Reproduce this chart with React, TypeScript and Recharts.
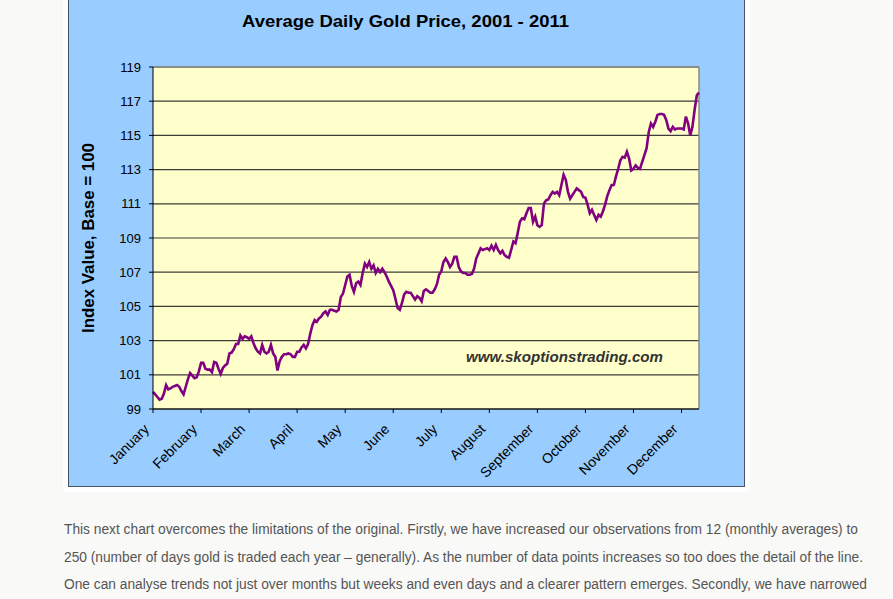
import React from "react";
import { LineChart, Line, XAxis, YAxis, CartesianGrid, ReferenceLine } from "recharts";

// index value per trading day
const jan = [100.0, 99.85, 99.7, 99.55, 99.6, 99.9, 100.4, 100.15, 100.2, 100.3, 100.35, 100.4, 100.3, 100.05, 99.85, 100.3, 100.75, 101.1, 100.95, 100.8, 100.85, 101.2];
const feb = [101.7, 101.7, 101.35, 101.3, 101.3, 101.15, 101.75, 101.7, 101.35, 101.05, 101.4, 101.55, 101.65, 102.25, 102.3, 102.5, 102.8, 102.8, 103.3, 103.1, 103.25, 103.2];
const mar = [103.1, 103.25, 102.85, 102.55, 102.35, 102.25, 102.75, 102.35, 102.25, 102.35, 102.75, 102.25, 102.05, 101.25, 101.8, 102.05, 102.2, 102.2, 102.25, 102.2, 102.05, 102.05];
const apr = [102.35, 102.35, 102.6, 102.75, 102.55, 102.8, 103.4, 103.9, 104.2, 104.1, 104.3, 104.4, 104.6, 104.7, 104.5, 104.8, 104.8, 104.75, 104.7, 104.8, 105.55, 105.75];
const may = [106.25, 106.75, 106.85, 106.2, 105.85, 106.35, 106.45, 106.25, 106.95, 107.5, 107.3, 107.6, 107.2, 107.4, 106.95, 107.2, 107.0, 107.2, 107.0, 106.75, 106.45, 106.2];
const jun = [105.95, 105.45, 104.9, 104.8, 105.2, 105.7, 105.85, 105.8, 105.8, 105.6, 105.4, 105.6, 105.5, 105.3, 105.9, 106.0, 105.9, 105.8, 105.8, 106.0, 106.3, 106.85];
const jul = [107.05, 107.6, 107.8, 107.6, 107.3, 107.5, 107.9, 107.9, 107.3, 107.05, 106.95, 106.95, 106.85, 106.85, 106.9, 107.2, 107.8, 108.1, 108.4, 108.3, 108.35, 108.4];
const aug = [108.3, 108.55, 108.3, 108.6, 108.3, 108.1, 108.25, 108.0, 107.9, 107.85, 108.3, 108.8, 108.7, 109.3, 109.95, 110.15, 110.1, 110.45, 110.75, 110.75, 109.95, 110.25];
const sep = [109.75, 109.65, 109.75, 111.0, 111.2, 111.25, 111.5, 111.7, 111.6, 111.7, 111.5, 112.1, 112.7, 112.4, 111.7, 111.3, 111.5, 111.7, 111.9, 111.8, 111.7, 111.4];
const oct = [111.35, 110.95, 110.45, 110.65, 110.35, 110.05, 110.35, 110.25, 110.55, 110.95, 111.45, 111.8, 112.1, 112.1, 112.6, 113.05, 113.55, 113.75, 113.7, 114.05, 113.65, 112.95];
const nov = [113.05, 113.25, 113.1, 113.05, 113.45, 113.85, 114.25, 115.2, 115.7, 115.5, 115.8, 116.2, 116.25, 116.25, 116.2, 115.9, 115.4, 115.25, 115.5, 115.35, 115.4, 115.4];
const dec = [115.4, 115.35, 116.1, 115.7, 115.0, 115.5, 116.5, 117.35, 117.5];

const months = ["January", "February", "March", "April", "May", "June", "July", "August", "September", "October", "November", "December"];
const monthStarts = [0, 22, 44, 66, 88, 110, 132, 154, 176, 198, 220, 242];
const yTicks = [99, 101, 103, 105, 107, 109, 111, 113, 115, 117, 119];

const paragraph = [
  "This next chart overcomes the limitations of the original. Firstly, we have increased our observations from 12 (monthly averages) to",
  "250 (number of days gold is traded each year \u2013 generally). As the number of data points increases so too does the detail of the line.",
  "One can analyse trends not just over months but weeks and even days and a clearer pattern emerges. Secondly, we have narrowed",
];

const prices = [...jan, ...feb, ...mar, ...apr, ...may, ...jun, ...jul, ...aug, ...sep, ...oct, ...nov, ...dec];
const chartData = prices.map((value, day) => ({ day, value }));

const FONT = "'Liberation Sans', Arial, sans-serif";

const MonthTick = (props: any) => {
  const { x, y, payload } = props;
  const idx = monthStarts.indexOf(payload.value);
  const ax = x - 3;
  const ay = y + 15;
  return (
    <text x={ax} y={ay} transform={`rotate(-45, ${ax}, ${ay})`} textAnchor="end" fontSize={14} fontFamily={FONT} fill="#000">
      {months[idx]}
    </text>
  );
};

const App: React.FC = () => {
  return (
    <div style={{ position: "absolute", left: 0, top: 0, width: 893, height: 599, background: "#f9f9f7", overflow: "hidden" }}>
      {/* white frame round the picture */}
      <div style={{ position: "absolute", left: 63, top: -6, width: 687, height: 498, background: "#ffffff", borderRadius: 6 }} />
      {/* chart area */}
      <div
        style={{
          position: "absolute",
          left: 68,
          top: -3,
          width: 675,
          height: 488,
          background: "#99ccff",
          border: "1.5px solid #4a5560",
        }}
      />
      <div style={{ position: "absolute", left: 0, top: 0 }}>
        <LineChart width={893} height={599} data={chartData} margin={{ top: 67, right: 194, bottom: 130, left: 93 }}>
          <CartesianGrid vertical={false} fill="#ffffcc" stroke="#3c3c3c" strokeWidth={1.2} />
          <XAxis
            dataKey="day"
            type="number"
            domain={[0, 250]}
            ticks={monthStarts}
            interval={0}
            height={60}
            tickSize={4}
            stroke="#000"
            tick={<MonthTick />}
          />
          <YAxis
            type="number"
            domain={[99, 119]}
            ticks={yTicks}
            interval={0}
            width={60}
            tickSize={4}
            tickMargin={8}
            stroke="#000"
            tick={{ fill: "#000", fontSize: 13, fontFamily: FONT }}
          />
          <ReferenceLine y={119} stroke="#8a8a8a" strokeWidth={1.5} />
          <ReferenceLine x={250} stroke="#8a8a8a" strokeWidth={1.5} />
          <Line
            type="linear"
            dataKey="value"
            stroke="#800080"
            strokeWidth={2.6}
            dot={false}
            isAnimationActive={false}
          />
        </LineChart>
      </div>
      <svg width={893} height={599} style={{ position: "absolute", left: 0, top: 0, pointerEvents: "none" }}>
        <text x={242} y={27} fontSize={17} fontWeight="bold" fontFamily={FONT} fill="#000" textLength={327} lengthAdjust="spacingAndGlyphs">
          Average Daily Gold Price, 2001 - 2011
        </text>
        <text
          x={93.5}
          y={238}
          transform="rotate(-90, 93.5, 238)"
          textAnchor="middle"
          fontSize={17}
          fontWeight="bold"
          fontFamily={FONT}
          fill="#000"
          textLength={190}
          lengthAdjust="spacingAndGlyphs"
        >
          Index Value, Base = 100
        </text>
        <text x={466} y={362} fontSize={15} fontWeight="bold" fontStyle="italic" fontFamily={FONT} fill="#333" textLength={197} lengthAdjust="spacingAndGlyphs">
          www.skoptionstrading.com
        </text>
        {paragraph.map((line, k) => (
          <text
            key={k}
            x={64}
            y={[534, 562, 589][k]}
            fontSize={14}
            fontFamily={FONT}
            fill="#555"
            textLength={[794, 799, 803][k]}
            lengthAdjust="spacingAndGlyphs"
          >
            {line}
          </text>
        ))}
      </svg>
    </div>
  );
};

export default App;
